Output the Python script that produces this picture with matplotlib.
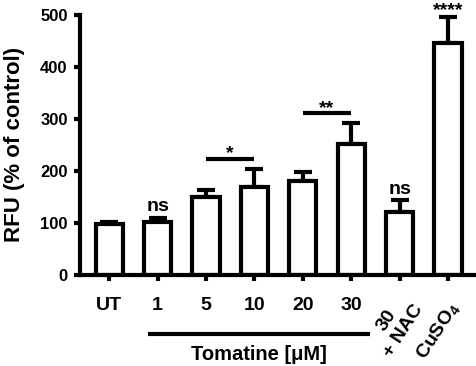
import numpy as np
import matplotlib.pyplot as plt

plt.rcParams['font.family'] = ['Liberation Sans', 'DejaVu Sans']
plt.rcParams['font.weight'] = 'bold'
plt.rcParams['mathtext.default'] = 'regular'

groups = ['UT', '1', '5', '10', '20', '30', '30\n+ NAC', 'CuSO$_4$']
means = [97, 101, 150, 170, 180, 251, 120, 446]
errors = [5, 9, 13, 34, 18, 42, 24, 51]
sig_labels = {1: 'ns', 6: 'ns', 7: '****'}
brackets = [(2, 3, 223, '*'), (4, 5, 311, '**')]

x = np.arange(len(groups))
lw = 3

fig = plt.figure(figsize=(4.77, 3.66), dpi=100)
ax = fig.add_axes([0.168, 0.249, 0.828, 0.71])

ax.bar(x, means, width=0.56, color='white', edgecolor='black', linewidth=lw, zorder=2)
ax.errorbar(x, means, yerr=[np.zeros(len(means)), errors], fmt='none', ecolor='black',
            elinewidth=lw, capsize=6.5, capthick=lw, zorder=1, clip_on=False)

for i, txt in sig_labels.items():
    off = 12 if txt == 'ns' else 3
    ax.text(x[i], means[i] + errors[i] + off, txt, ha='center', va='baseline',
            fontsize=14, fontweight='bold', clip_on=False)

for a, b, y, txt in brackets:
    ax.plot([x[a], x[b]], [y, y], color='black', lw=lw, solid_capstyle='butt')
    ax.text((x[a] + x[b]) / 2, y + 1, txt, ha='center', va='baseline',
            fontsize=14, fontweight='bold')

ax.set_xlim(-0.6, 7.56)
ax.set_ylim(0, 500)
ax.set_yticks([0, 100, 200, 300, 400, 500])
ax.set_xticks(x)
ax.set_xticklabels(groups[:6] + ['', ''])
ax.tick_params(axis='both', width=lw, length=4)
ax.tick_params(axis='x', labelsize=14, pad=12)
ax.tick_params(axis='y', labelsize=12, pad=5)
ax.set_ylabel('RFU (% of control)', fontsize=16, fontweight='bold')
ax.yaxis.set_label_coords(-0.139, 0.5)
for s in ['top', 'right']:
    ax.spines[s].set_visible(False)
for s in ['left', 'bottom']:
    ax.spines[s].set_linewidth(lw)

rot_pos = {6: (6.23, -50), 7: (7.16, -57)}
for i, (tx, ty) in rot_pos.items():
    ax.text(tx, ty, groups[i], rotation=57, ha='right', va='center',
            fontsize=14, fontweight='bold', rotation_mode='anchor',
            multialignment='center', clip_on=False)

ax.plot([x[1] - 0.19, x[5] + 0.39], [-113, -113], color='black', lw=lw,
        solid_capstyle='butt', clip_on=False)
ax.text(3.09, -135, 'Tomatine [\u03bcM]', ha='center', va='top',
        fontsize=14.5, fontweight='bold')

fig.savefig('out.png', dpi=100)
